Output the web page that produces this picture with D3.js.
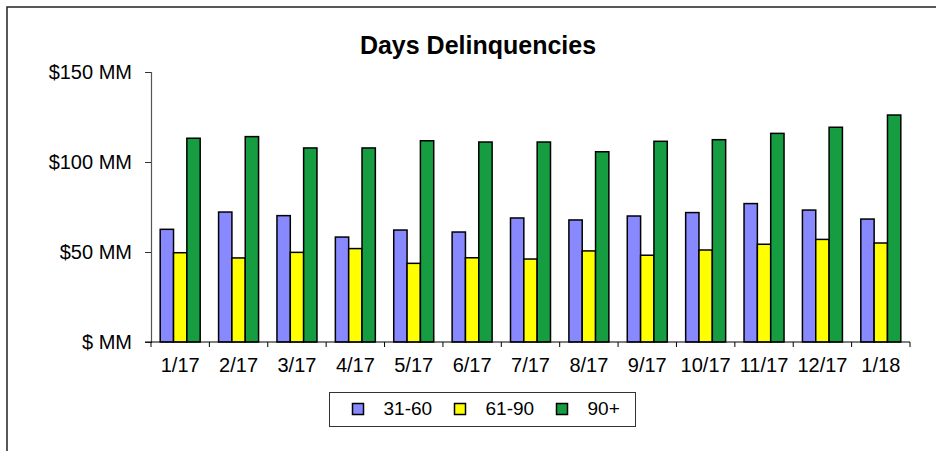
<!DOCTYPE html>
<html>
<head>
<meta charset="utf-8">
<script src="https://cdn.jsdelivr.net/npm/d3@7"></script>
<style>
  body { margin: 0; background: #fff; }
  svg { display: block; }
</style>
</head>
<body>
<div id="chart"></div>
<script>

// data ($ MM)
var months = ['1/17','2/17','3/17','4/17','5/17','6/17','7/17','8/17','9/17','10/17','11/17','12/17','1/18']
var series = ['31-60','61-90','90+']
var days31to60 = [62.6, 72.2, 70.2, 58.3, 62.2, 61.1, 68.9, 67.8, 70.0, 71.9, 76.9, 73.3, 68.3]
var days61to90 = [49.6, 46.7, 49.8, 51.9, 43.7, 46.8, 46.1, 50.6, 48.2, 51.1, 54.3, 57.0, 55.0]
var days90plus = [113.2, 114.1, 107.8, 107.8, 111.8, 111.1, 111.1, 105.7, 111.5, 112.4, 115.9, 119.3, 126.1]
var yTicks = [0, 50, 100, 150]
var title = 'Days Delinquencies'

var width = 936,
    height = 451,
    colors = ['#8888ff', '#ffff00', '#169c41'],
    font = 'Liberation Sans, Arial, sans-serif'

var values = [days31to60, days61to90, days90plus]

var rows = months.map(function(m, i) {
    return {month: m, vals: series.map(function(s, k) { return {key: s, value: values[k][i]} })}
})

var xScale = d3.scaleBand()
    .domain(months)
    .range([151, 910])
    .paddingInner(0.315)
    .paddingOuter(0.1575)

var xInner = d3.scaleBand()
    .domain(series)
    .range([0, xScale.bandwidth()])

var yScale = d3.scaleLinear()
    .domain([0, 150])
    .range([342, 72])

var color = d3.scaleOrdinal().domain(series).range(colors)

var svg = d3.select('#chart')
    .append('svg')
    .attr('width', width)
    .attr('height', height)
    .attr('font-family', font)

// outer frame (runs off the right and bottom edges)
svg.append('path')
    .attr('d', `M7,${height} V7 H${width}`)
    .attr('fill', 'none')
    .attr('stroke', '#222')
    .attr('stroke-width', 1.5)

svg.append('text')
    .attr('x', 478)
    .attr('y', 54)
    .attr('text-anchor', 'middle')
    .attr('font-size', '25px')
    .attr('font-weight', 'bold')
    .text(title)

// y axis
var yAxis = d3.axisLeft(yScale)
    .tickValues(yTicks)
    .tickSize(6)
    .tickPadding(13)
    .tickFormat(d => d ? `$${d} MM` : '$ MM')

svg.append('g')
    .attr('transform', `translate(${xScale.range()[0]},0)`)
    .call(yAxis)
    .call(g => g.select('.domain').attr('stroke', '#555').attr('stroke-width', 1.2))
    .call(g => g.selectAll('.tick line').attr('stroke', '#333'))
    .call(g => g.selectAll('text').attr('font-size', '20px').attr('fill', '#000').attr('font-family', font))

// bars
var groups = svg.append('g')
    .selectAll('g')
    .data(rows)
    .join('g')
    .attr('transform', d => `translate(${xScale(d.month)},0)`)

groups.selectAll('rect')
    .data(d => d.vals)
    .join('rect')
    .attr('x', d => xInner(d.key))
    .attr('y', d => yScale(d.value))
    .attr('width', xInner.bandwidth())
    .attr('height', d => yScale(0) - yScale(d.value))
    .attr('fill', d => color(d.key))
    .attr('stroke', '#000')
    .attr('stroke-width', 1.5)

// x axis: ticks sit on category boundaries, labels centred
var x0 = xScale.range()[0], step = xScale.step()
var boundaries = d3.range(months.length + 1).map(i => x0 + i * step)

var xg = svg.append('g')
    .attr('transform', `translate(0,${yScale(0)})`)

xg.append('line')
    .attr('x1', x0 - 6)
    .attr('x2', xScale.range()[1])
    .attr('stroke', '#000')
    .attr('stroke-width', 1.2)

xg.selectAll('.bt')
    .data(boundaries)
    .join('line')
    .attr('class', 'bt')
    .attr('x1', d => d)
    .attr('x2', d => d)
    .attr('y1', 0)
    .attr('y2', 5)
    .attr('stroke', '#000')

xg.selectAll('.lbl')
    .data(months)
    .join('text')
    .attr('class', 'lbl')
    .attr('x', d => xScale(d) + xScale.bandwidth() / 2)
    .attr('y', 30)
    .attr('text-anchor', 'middle')
    .attr('font-size', '20px')
    .text(d => d)

// legend
var legend = svg.append('g')
    .attr('transform', 'translate(329.5,392.5)')

legend.append('rect')
    .attr('width', 306)
    .attr('height', 34)
    .attr('fill', '#fff')
    .attr('stroke', '#333')

var items = legend.selectAll('.item')
    .data(series)
    .join('g')
    .attr('class', 'item')
    .attr('transform', (d, i) => `translate(${23 + i * 102},11)`)

items.append('rect')
    .attr('width', 11)
    .attr('height', 11)
    .attr('fill', d => color(d))
    .attr('stroke', '#000')
    .attr('stroke-width', 1.5)

items.append('text')
    .attr('x', 31)
    .attr('y', 11)
    .attr('font-size', '19px')
    .text(d => d)

</script>
</body>
</html>
